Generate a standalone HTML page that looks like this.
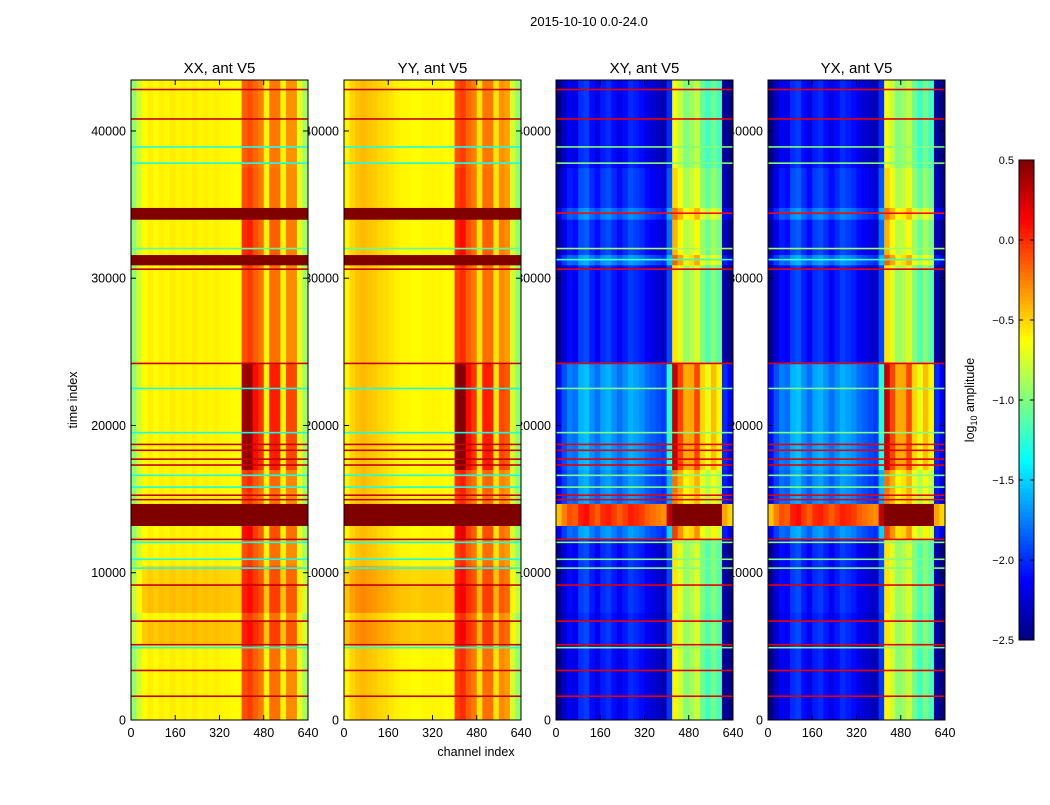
<!DOCTYPE html>
<html><head><meta charset="utf-8"><style>
body{margin:0;background:#fff;}
svg text{font-family:"Liberation Sans",sans-serif;}
</style></head><body>
<svg id="fig" width="1050" height="800" viewBox="0 0 1050 800" xmlns="http://www.w3.org/2000/svg">
<rect width="1050" height="800" fill="#fff"/>
<text x="589" y="26" font-size="13" text-anchor="middle">2015-10-10 0.0-24.0</text>
<text x="476" y="756" font-size="12.5" text-anchor="middle">channel index</text>
<text transform="translate(77,400) rotate(-90)" font-size="12.5" text-anchor="middle">time index</text>
<g id="labels"></g>
<g id="panels"></g>
<g id="cbar"></g>
</svg>
<script>
// ---- data ----
const panelTitles = ["XX, ant V5","YY, ant V5","XY, ant V5","YX, ant V5"];
const xTicks = [0,160,320,480,640];
const yTicks = [0,10000,20000,30000,40000];
const cbarTicks = [0.5,0.0,-0.5,-1.0,-1.5,-2.0,-2.5];
// column profiles: 32 bins of 20 channels (log10 amplitude)
const xxBase = [-0.95,-0.75,-0.62,-0.58,-0.62,-0.58,-0.6,-0.57,-0.6,-0.58,-0.6,-0.57,-0.6,-0.58,-0.6,-0.58,-0.6,-0.6,-0.62,-0.62,-0.4,-0.35,-0.3,-0.35,-0.6,-0.35,-0.35,-0.6,-0.4,-0.4,-0.7,-0.9];
const yyBase = [-0.6,-0.5,-0.45,-0.42,-0.45,-0.47,-0.5,-0.52,-0.55,-0.58,-0.6,-0.6,-0.62,-0.62,-0.6,-0.6,-0.6,-0.6,-0.62,-0.62,-0.35,-0.3,-0.3,-0.35,-0.55,-0.35,-0.35,-0.55,-0.4,-0.45,-0.75,-0.95];
const xyBase = [-2.35,-2.15,-2.0,-2.05,-1.85,-1.8,-1.95,-2.05,-1.9,-1.85,-1.95,-2.05,-1.95,-1.85,-1.9,-1.95,-2.05,-2.1,-2.15,-2.2,-2.0,-0.75,-0.8,-0.95,-0.85,-0.8,-1.0,-1.1,-1.0,-1.1,-2.25,-2.4];
const yxBase = [-2.35,-2.15,-2.0,-2.05,-1.85,-1.8,-1.95,-2.05,-1.9,-1.85,-1.95,-2.05,-1.95,-1.85,-1.9,-1.95,-2.05,-2.1,-2.15,-2.2,-2.0,-0.75,-0.8,-0.95,-0.85,-0.8,-1.0,-1.1,-1.0,-1.1,-2.25,-2.4];
// how strongly each bin responds to RFI activity
const autoAct = [0,0,0,0,0,0,0,0,0,0,0,0,0,0,0,0,0,0,0,0,0.5,0.5,0.25,0.2,0,0.25,0.25,0,0.2,0.2,0,0];
const crossAct = [0,0,0,0,0,0,0,0,0,0,0,0,0,0,0,0,0,0,0,0,0.3,0.5,0.3,0.2,0.15,0.3,0.15,0.1,0.2,0.15,0,0];
// time segments: start, end, autoShift, crossShift, activity
const segStart = [0,1700,3400,5200,6800,7300,9300,10500,12300,13200,14700,15500,17000,24300,30900,31600,34000,34800,37500,43460];
const segAuto  = [0,0,0,0.15,0,0.15,0.1,0,0,2,0,0,0,0,2,0,2,0,0];
const segCross = [-0.15,-0.15,-0.15,-0.1,-0.15,-0.1,-0.1,-0.1,0.2,1.9,0.2,0.2,0.25,-0.1,0.2,-0.05,0.15,-0.05,-0.15];
const segAct   = [0.6,0.6,0.6,0.6,0.6,0.6,0.6,0.6,1,1.4,0.6,0.7,1.6,0.6,0.8,0.8,0.8,0.6,0.5];
// thin horizontal RFI lines: time index, value in auto, value in cross
const lineT     = [1600,3350,4900,5100,6700,9150,10300,10900,12050,12250,14950,15250,15800,16600,17300,17700,18300,18700,19500,22500,24200,30600,31250,32000,34400,37800,38900,40800,42800];
const lineAuto  = [0.3,0.3,-1.3,0.3,0.3,0.3,-1.3,-1.3,-1.3,0.3,0.3,0.3,-1.3,-1.3,0.3,0.3,0.3,0.3,-1.3,-1.3,0.3,0.3,0.5,-1.1,0.5,-1.3,-1.3,0.3,0.3];
const lineCross = [0.2,0.2,-1.0,0.2,0.2,0.2,-1.0,-1.0,-1.0,0.2,0.2,0.2,-1.0,-1.0,0.2,0.2,0.2,0.2,-1.0,-1.0,0.2,0.2,-1.2,-0.9,0.1,-1.0,-1.0,0.2,0.2];

// ---- geometry ----
const panelX = [131,344,556,768], PW=177, PT=80, PB=720, TMAX=43460, CMAX=640;
const NS='http://www.w3.org/2000/svg';
function el(tag, attrs, parent){const e=document.createElementNS(NS,tag);for(const k in attrs)e.setAttribute(k,attrs[k]);parent.appendChild(e);return e;}
function sx(p,c){return panelX[p]+c/CMAX*PW;}
function sy(t){return PB-t/TMAX*(PB-PT);}
function jet(v){
  let x=(v+2.5)/3; x=Math.max(0,Math.min(1,x));
  const f=(a)=>Math.max(0,Math.min(1,a));
  const r=f(1.5-Math.abs(4*x-3)), g=f(1.5-Math.abs(4*x-2)), b=f(1.5-Math.abs(4*x-1));
  return `rgb(${Math.round(r*255)},${Math.round(g*255)},${Math.round(b*255)})`;
}
const labels=document.getElementById('labels'), panels=document.getElementById('panels'), cbar=document.getElementById('cbar');
const bases=[xxBase,yyBase,xyBase,yxBase];
for(let p=0;p<4;p++){
  const isCross=p>=2, base=bases[p], act=isCross?crossAct:autoAct;
  for(const t of yTicks){
    const tl=el('text',{x:panelX[p]-5,y:sy(t)+4.5,'font-size':12.5,'text-anchor':'end'},labels);
    
    
    tl.textContent=t;
  }
  for(const c of xTicks){
    const tl=el('text',{x:sx(p,c),y:737,'font-size':12.5,'text-anchor':'middle'},labels);
    
    
    tl.textContent=c;
  }
  const g=el('g',{},panels);
  
  
  const bw=CMAX/base.length;
  for(let s=0;s<segStart.length-1;s++){
    const t0=segStart[s], t1=segStart[s+1];
    const shift=isCross?segCross[s]:segAuto[s];
    for(let i=0;i<base.length;i++){
      let v=base[i]+shift+act[i]*segAct[s];
      if(!isCross && shift>=2) v=0.5;
      const r=el('rect',{x:sx(p,i*bw),y:sy(t1),width:PW/base.length+0.4,height:sy(t0)-sy(t1)+0.4,fill:jet(v)},g);
      
      
    }
  }
  for(let k=0;k<lineT.length;k++){
    const v=isCross?lineCross[k]:lineAuto[k];
    const r=el('rect',{x:panelX[p],y:sy(lineT[k])-1,width:PW,height:1.6,fill:jet(v)},g);
    
    
  }
  const fr=el('rect',{x:panelX[p],y:PT,width:PW,height:PB-PT,fill:'none',stroke:'#000','stroke-width':1},g);
  
  
  for(const t of yTicks){el('line',{x1:panelX[p],x2:panelX[p]+5,y1:sy(t),y2:sy(t),stroke:'#000'},g);el('line',{x1:panelX[p]+PW-5,x2:panelX[p]+PW,y1:sy(t),y2:sy(t),stroke:'#000'},g);}
  for(const c of xTicks){el('line',{x1:sx(p,c),x2:sx(p,c),y1:PB,y2:PB-5,stroke:'#000'},g);el('line',{x1:sx(p,c),x2:sx(p,c),y1:PT,y2:PT+5,stroke:'#000'},g);}
  const tt=el('text',{x:panelX[p]+PW/2,y:73,'font-size':15,'text-anchor':'middle'},g);
  
  
  tt.textContent=panelTitles[p];
}
// colorbar
const CX=1019,CW=15,CT=160,CB=640;
for(let i=0;i<120;i++){
  const v=-2.5+3*(i+0.5)/120;
  const r=el('rect',{x:CX,y:CB-(i+1)*(CB-CT)/120,width:CW,height:(CB-CT)/120+0.5,fill:jet(v)},cbar);
  
  
}
const cf=el('rect',{x:CX,y:CT,width:CW,height:CB-CT,fill:'none',stroke:'#000'},cbar);


for(const v of cbarTicks){
  const y=CB-(v+2.5)/3*(CB-CT);
  el('line',{x1:CX,x2:CX+4,y1:y,y2:y,stroke:'#000'},cbar);
  el('line',{x1:CX+CW-4,x2:CX+CW,y1:y,y2:y,stroke:'#000'},cbar);
  const tl=el('text',{x:CX-5,y:y+4,'font-size':11,'text-anchor':'end'},cbar);
  
  
  tl.textContent=v.toFixed(1).replace('-','\u2212');
}
const cl=el('text',{transform:'translate(974,400) rotate(-90)','font-size':12.5,'text-anchor':'middle'},cbar);


cl.innerHTML='log<tspan font-size="9" dy="3">10</tspan><tspan dy="-3"> amplitude</tspan>';
</script>
</body></html>
